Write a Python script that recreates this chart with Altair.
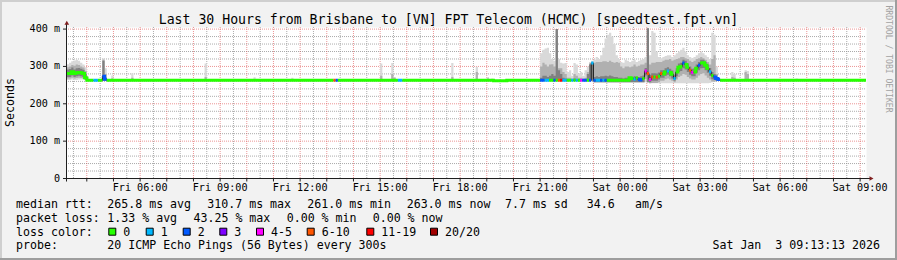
import altair as alt
import pandas as pd

# ------------------------------------------------------------------ values
baseline_rtt = 263.0          # flat median outside the windows listed below (ms)

# Early window: 5-minute steps starting Fri 03:10
early_start = "2026-01-02 03:10"
early_median = [281, 281, 281, 286, 281, 283, 284, 283, 281, 270,
                263, 263, 263, 263, 263, 263, 263, 274, 266, 263]
early_loss = ["0", "0", "0", "0", "0", "0", "0", "0", "0", "0",
              "0", "0", "0", "1", "1", "0", "0", "2", "2", "0"]
early_lo = [264, 264, 264, 265, 264, 264, 265, 265, 265, 263,
            262, 262, 262, 262, 262, 262, 262, 262, 262, 262]
early_hi = [306, 306, 310, 314, 316, 318, 315, 310, 305, 298,
            272, 264, 264, 264, 264, 264, 264, 321, 295, 264]
early_mid_lo = [268, 268, 268, 270, 268, 269, 270, 269, 268, 264,
                262, 262, 262, 262, 262, 262, 262, 262, 262, 262]
early_mid = [298, 298, 300, 304, 302, 305, 304, 300, 297, 288,
             266, 264, 264, 264, 264, 264, 264, 318, 280, 264]
early_dark_lo = [272, 272, 272, 276, 272, 274, 275, 274, 272, 265,
                 262, 262, 262, 262, 262, 262, 262, 262, 262, 262]
early_dark = [292, 292, 293, 297, 292, 295, 296, 294, 291, 280,
              264, 264, 264, 264, 264, 264, 264, 315, 270, 264]

# Late window: 5-minute steps starting Fri 20:50
late_start = "2026-01-02 20:50"
late_median = [263, 263, 263, 263, 263, 263, 263, 263, 263, 263,
               263, 263, 263, 263, 263, 263, 263, 263, 263, 263,
               263, 263, 263, 263, 263, 309, 263, 263, 263, 263,
               263, 263, 263, 263, 263, 263, 263, 263, 263, 263,
               263, 263, 270, 268, 266, 270, 265, 264, 268, 288,
               281, 265, 272, 272, 271, 274, 281, 280, 285, 288,
               284, 279, 268, 285, 298, 300, 309, 305, 298, 290,
               284, 285, 295, 303, 309, 310, 303, 295, 286, 276,
               272, 268, 265, 263, 263]
late_loss = ["0", "0", "2", "2", "1", "1", "0", "0", "2", "0",
             "6-10", "11-19", "1", "1", "0", "0", "1", "0", "1", "0",
             "4-5", "2", "2", "0", "2", "1", "2", "1", "1", "2",
             "1", "2", "0", "0", "0", "0", "0", "0", "0", "0",
             "0", "0", "0", "0", "1", "0", "2", "2", "0", "4-5",
             "6-10", "4-5", "6-10", "0", "6-10", "0", "6-10", "0", "0", "1",
             "0", "0", "1", "0", "0", "0", "2", "0", "0", "6-10",
             "4-5", "0", "0", "2", "0", "0", "0", "0", "1", "0",
             "2", "2", "2", "0", "0"]
late_lo = [262, 262, 262, 262, 262, 262, 262, 262, 262, 262,
           262, 262, 262, 262, 262, 262, 262, 262, 262, 262,
           262, 262, 262, 262, 262, 262, 258, 258, 258, 258,
           258, 258, 258, 258, 258, 258, 258, 258, 258, 258,
           258, 258, 258, 258, 258, 258, 258, 258, 258, 258,
           258, 255, 255, 255, 255, 255, 255, 255, 255, 255,
           255, 255, 255, 255, 255, 255, 255, 255, 255, 255,
           255, 255, 255, 255, 255, 255, 255, 255, 256, 258,
           260, 262, 262, 262, 262]
late_hi = [264, 264, 335, 345, 348, 350, 335, 320, 315, 400,
           320, 310, 308, 309, 285, 290, 275, 309, 305, 280,
           285, 275, 290, 300, 312, 315, 318, 325, 320, 330,
           350, 375, 385, 390, 380, 360, 330, 320, 312, 310,
           318, 315, 312, 315, 318, 312, 315, 318, 320, 325,
           402, 330, 395, 390, 340, 325, 322, 325, 328, 330,
           330, 325, 330, 335, 340, 345, 350, 340, 330, 325,
           322, 325, 330, 335, 340, 335, 330, 325, 320, 390,
           385, 300, 270, 264, 264]
late_mid_lo = [262, 262, 262, 262, 262, 262, 262, 262, 262, 262,
               262, 262, 262, 262, 262, 262, 262, 262, 262, 262,
               262, 262, 262, 262, 262, 262, 258, 258, 258, 258,
               258, 258, 258, 258, 258, 258, 258, 258, 258, 258,
               258, 258, 258, 258, 258, 258, 258, 258, 258, 266,
               258, 255, 256, 256, 256, 258, 262, 262, 266, 268,
               265, 262, 258, 265, 272, 275, 280, 278, 272, 268,
               265, 265, 270, 276, 280, 282, 276, 270, 265, 260,
               260, 262, 262, 262, 262]
late_mid = [264, 264, 300, 310, 305, 300, 305, 306, 300, 400,
            295, 295, 285, 280, 270, 270, 268, 280, 275, 270,
            270, 268, 270, 285, 308, 312, 310, 312, 312, 312,
            314, 314, 312, 315, 312, 310, 312, 310, 300, 295,
            300, 300, 298, 300, 305, 300, 302, 305, 305, 310,
            402, 305, 310, 310, 312, 312, 312, 315, 318, 318,
            320, 315, 318, 320, 322, 325, 325, 322, 320, 315,
            312, 315, 320, 322, 325, 322, 318, 312, 305, 320,
            330, 280, 265, 264, 264]
late_dark_lo = [262, 262, 262, 262, 262, 262, 262, 262, 262, 262,
                262, 262, 262, 262, 262, 262, 262, 262, 262, 262,
                262, 262, 262, 262, 262, 262, 258, 258, 258, 258,
                258, 258, 258, 258, 258, 258, 258, 258, 258, 258,
                258, 258, 258, 258, 258, 258, 258, 258, 258, 276,
                258, 258, 262, 262, 262, 265, 270, 270, 275, 278,
                274, 268, 262, 274, 285, 288, 295, 292, 285, 278,
                274, 274, 283, 290, 295, 296, 290, 283, 275, 266,
                264, 262, 262, 262, 262]
late_dark = [264, 264, 270, 275, 275, 272, 275, 280, 275, 400,
             290, 280, 270, 268, 265, 265, 265, 268, 266, 265,
             265, 265, 265, 280, 305, 310, 272, 274, 272, 274,
             274, 275, 274, 276, 274, 272, 272, 270, 270, 268,
             270, 270, 272, 272, 274, 272, 272, 274, 276, 296,
             402, 278, 282, 282, 281, 284, 290, 290, 295, 298,
             294, 289, 278, 295, 308, 310, 318, 315, 308, 300,
             294, 295, 305, 312, 318, 318, 312, 305, 296, 285,
             280, 272, 266, 264, 264]

# Isolated smoke spikes on the flat part (5-minute step start, top ms, darker top ms)
spike_times = ["2026-01-02 04:55", "2026-01-02 05:40", "2026-01-02 08:25", "2026-01-02 10:15",
               "2026-01-02 11:40", "2026-01-02 15:00", "2026-01-02 15:25", "2026-01-02 15:30",
               "2026-01-02 17:40", "2026-01-02 18:35", "2026-01-02 19:00", "2026-01-02 19:10",
               "2026-01-02 19:45", "2026-01-03 04:10", "2026-01-03 04:15", "2026-01-03 04:40",
               "2026-01-03 04:45", "2026-01-03 06:35"]
spike_top = [276, 282, 308, 271, 270, 308, 309, 272, 309, 299, 272, 268, 266, 285, 280, 290, 288, 268]
spike_mid = [268, 270, 272, 266, 265, 275, 280, 270, 272, 285, 268, 265, 264, 272, 270, 285, 280, 265]

# Single loss events on the flat part
flat_loss_times = ["2026-01-02 13:15", "2026-01-02 13:20", "2026-01-02 15:40", "2026-01-02 15:45"]
flat_loss_class = ["6-10", "2", "1", "1"]

# Short dip of the median
dip_times = ["2026-01-02 19:15", "2026-01-02 19:20", "2026-01-02 19:25",
             "2026-01-02 19:30", "2026-01-02 19:35", "2026-01-02 19:40"]
dip_median = [261.5, 261.5, 261.5, 261.5, 261.5, 261.5]

loss_labels = ["0", "1", "2", "3", "4-5", "6-10", "11-19", "20/20"]
loss_colors = ["#26ff00", "#00b8ff", "#0059ff", "#7e00ff", "#ff00ff", "#ff5500", "#ff0000", "#a10000"]

x_tick_times = ["2026-01-02 06:00", "2026-01-02 09:00", "2026-01-02 12:00", "2026-01-02 15:00",
                "2026-01-02 18:00", "2026-01-02 21:00", "2026-01-03 00:00", "2026-01-03 03:00",
                "2026-01-03 06:00", "2026-01-03 09:00"]
x_tick_labels = ["Fri 06:00", "Fri 09:00", "Fri 12:00", "Fri 15:00", "Fri 18:00", "Fri 21:00",
                 "Sat 00:00", "Sat 03:00", "Sat 06:00", "Sat 09:00"]
y_tick_values = [0, 100, 200, 300, 400]
y_tick_labels = ["0", "100 m", "200 m", "300 m", "400 m"]

title_text = "Last 30 Hours from Brisbane to [VN] FPT Telecom (HCMC) [speedtest.fpt.vn]"
rtt_items = ["265.8 ms avg", "310.7 ms max", "261.0 ms min", "263.0 ms now", "7.7 ms sd", "34.6", "am/s"]
loss_items = ["1.33 % avg", "43.25 % max", "0.00 % min", "0.00 % now"]
probe_text = "20 ICMP Echo Pings (56 Bytes) every 300s"
stamp_text = "Sat Jan\u00a0\u00a03 09:13:13 2026"

# ------------------------------------------------------------------ layout (pixels, not data)
OX, OY = 66, 27            # plot origin in the page
W, H = 800, 151.5
MONO = "DejaVu Sans Mono"
rtt_x = [107.3, 207.3, 307.3, 406.7, 505, 586.7, 635]
loss_x = [107.3, 193.5, 286.7, 372.7]
box_x = [108.3, 145.7, 182.7, 219.3, 256, 306.7, 366.3, 430]
row_y = [208.3, 222.0, 235.7, 249.4]

# ------------------------------------------------------------------ tables
base = pd.DataFrame(index=pd.date_range("2026-01-02 03:10", "2026-01-03 09:10", freq="5min"))
base["median"] = baseline_rtt
base["loss"] = "0"
for c in ["lo", "hi", "mid_lo", "mid", "dark_lo", "dark"]:
    base[c] = baseline_rtt


def place(start, **cols):
    n = len(next(iter(cols.values())))
    idx = pd.date_range(start, periods=n, freq="5min")
    for c, vals in cols.items():
        base.loc[idx, c] = list(vals)


place(early_start, median=early_median, loss=early_loss, lo=early_lo, hi=early_hi,
      mid_lo=early_mid_lo, mid=early_mid, dark_lo=early_dark_lo, dark=early_dark)
place(late_start, median=late_median, loss=late_loss, lo=late_lo, hi=late_hi,
      mid_lo=late_mid_lo, mid=late_mid, dark_lo=late_dark_lo, dark=late_dark)
for t, top, mid in zip(spike_times, spike_top, spike_mid):
    ts = pd.Timestamp(t)
    base.loc[ts, ["lo", "mid_lo", "dark_lo"]] = baseline_rtt - 1
    base.loc[ts, "hi"] = top
    base.loc[ts, "mid"] = mid
for t, c in zip(flat_loss_times, flat_loss_class):
    base.loc[pd.Timestamp(t), "loss"] = c
for t, m in zip(dip_times, dip_median):
    base.loc[pd.Timestamp(t), "median"] = m

steps = base.reset_index().rename(columns={"index": "t"})
steps["t2"] = steps["t"] + pd.Timedelta(minutes=5)
closing = steps.iloc[[-1]].copy()
closing["t"] = closing["t2"]
curve = pd.concat([steps, closing], ignore_index=True)[
    ["t", "median", "lo", "hi", "mid_lo", "mid", "dark_lo", "dark"]]

run_id = (steps["loss"] != steps["loss"].shift()).cumsum()
parts = []
for rid, g in steps.groupby(run_id):
    pts = g[["t", "median", "loss"]]
    end = g.iloc[[-1]][["t2", "median", "loss"]].rename(columns={"t2": "t"})
    p = pd.concat([pts, end], ignore_index=True)
    p["run"] = int(rid)
    parts.append(p)
segs = pd.concat(parts, ignore_index=True)

vminor = pd.DataFrame({"t": pd.date_range("2026-01-02 03:30", "2026-01-03 08:30", freq="h")})
vmajor = pd.DataFrame({"t": pd.date_range("2026-01-02 04:00", "2026-01-03 09:00", freq="h")})
hminor = pd.DataFrame({"v": [v for v in range(20, 400, 20) if v % 100]})
hmajor = pd.DataFrame({"v": y_tick_values[1:]})
xlab = pd.DataFrame({"t": pd.to_datetime(x_tick_times), "lab": x_tick_labels})
ylab = pd.DataFrame({"v": y_tick_values, "lab": y_tick_labels})
one = pd.DataFrame({"k": [0]})

xs = alt.Scale(domain=[alt.DateTime(year=2026, month=1, date=2, hours=3, minutes=13, seconds=13),
                       alt.DateTime(year=2026, month=1, date=3, hours=9, minutes=13, seconds=13)],
               nice=False)
ys = alt.Scale(domain=[0, 405.6], nice=False, zero=False)
X = alt.X("t:T", scale=xs, axis=None)


def Y(f):
    return alt.Y(f"{f}:Q", scale=ys, axis=None)


layers = []

# grid
layers.append(alt.Chart(vminor).mark_rule(color="#8f8f8f", strokeOpacity=0.75, strokeDash=[1, 1], strokeWidth=1)
              .encode(x=X, y=alt.value(0), y2=alt.value(H)))
layers.append(alt.Chart(hminor).mark_rule(color="#8f8f8f", strokeOpacity=0.75, strokeDash=[1, 1], strokeWidth=1)
              .encode(y=Y("v"), x=alt.value(0), x2=alt.value(W)))
layers.append(alt.Chart(vmajor).mark_rule(color="#de4f4f", strokeOpacity=0.6, strokeDash=[1, 1], strokeWidth=1)
              .encode(x=X, y=alt.value(0), y2=alt.value(H)))
layers.append(alt.Chart(hmajor).mark_rule(color="#de4f4f", strokeOpacity=0.6, strokeDash=[1, 1], strokeWidth=1)
              .encode(y=Y("v"), x=alt.value(0), x2=alt.value(W)))

# smoke: outer, middle and core bands of the ping distribution
for lo, top, col in [("lo", "hi", "#d9d9d9"), ("mid_lo", "mid", "#b0b0b0"), ("dark_lo", "dark", "#808080")]:
    layers.append(alt.Chart(curve).mark_area(interpolate="step-after", color=col, clip=True)
                  .encode(x=X, y=Y(lo), y2=alt.Y2(top)))

# median: thin dark line + loss-coloured thick line
layers.append(alt.Chart(curve).mark_line(interpolate="step-after", color="#202020", strokeWidth=1, clip=True)
              .encode(x=X, y=Y("median")))
layers.append(alt.Chart(segs).mark_line(interpolate="step-after", strokeWidth=3, strokeCap="butt",
                                        strokeJoin="miter", clip=True)
              .encode(x=X, y=Y("median"),
                      color=alt.Color("loss:N", scale=alt.Scale(domain=loss_labels, range=loss_colors), legend=None),
                      detail="run:N"))

# axes
AX = "#1f1f1f"
layers.append(alt.Chart(one).mark_rule(color=AX, strokeWidth=1)
              .encode(x=alt.value(-3), x2=alt.value(W + 4), y=alt.value(H)))
layers.append(alt.Chart(one).mark_rule(color=AX, strokeWidth=1)
              .encode(x=alt.value(0.5), y=alt.value(H + 3), y2=alt.value(-3)))
layers.append(alt.Chart(vmajor).mark_rule(color=AX, strokeWidth=1)
              .encode(x=X, y=alt.value(H), y2=alt.value(H + 3)))
layers.append(alt.Chart(ylab).mark_rule(color=AX, strokeWidth=1)
              .encode(y=Y("v"), x=alt.value(-3), x2=alt.value(0)))
layers.append(alt.Chart(one).mark_point(shape="triangle-up", filled=True, size=22, color="#801f1f", opacity=1)
              .encode(x=alt.value(0.8), y=alt.value(-4.3)))
layers.append(alt.Chart(one).mark_point(shape="triangle-right", filled=True, size=22, color="#801f1f", opacity=1)
              .encode(x=alt.value(W + 5.5), y=alt.value(H)))

# tick labels
layers.append(alt.Chart(xlab).mark_text(font=MONO, fontSize=10.1, align="center", baseline="alphabetic", color="black")
              .encode(x=X, y=alt.value(191 - OY), text="lab:N"))
layers.append(alt.Chart(ylab).mark_text(font=MONO, fontSize=10.1, align="right", baseline="middle", color="black")
              .encode(y=Y("v"), x=alt.value(60 - OX), text="lab:N"))


def txt(s, x, y, size=11.6, align="left", angle=0, color="black", baseline="alphabetic"):
    return (alt.Chart(one)
            .mark_text(text=s, font=MONO, fontSize=size, align=align, angle=angle, color=color, baseline=baseline)
            .encode(x=alt.value(x - OX), y=alt.value(y - OY)))


layers.append(txt(title_text, 448.5, 24, size=13.2, align="center"))
layers.append(txt("Seconds", 10.7, 102.5, angle=270, align="center", baseline="middle"))
layers.append(txt("RRDTOOL / TOBI OETIKER", 888.3, 59, size=8.1, angle=90, align="center",
                  baseline="middle", color="#a2a2a2"))

layers.append(txt("median rtt:", 16, row_y[0]))
for s, x in zip(rtt_items, rtt_x):
    layers.append(txt(s, x, row_y[0]))
layers.append(txt("packet loss:", 16, row_y[1]))
for s, x in zip(loss_items, loss_x):
    layers.append(txt(s, x, row_y[1]))
layers.append(txt("loss color:", 16, row_y[2]))
for lab, col, bx in zip(loss_labels, loss_colors, box_x):
    layers.append(alt.Chart(one).mark_rect(color=col, stroke="black", strokeWidth=1)
                  .encode(x=alt.value(bx - OX + 0.5), x2=alt.value(bx - OX + 7.5),
                          y=alt.value(row_y[2] - 8 - OY + 0.5), y2=alt.value(row_y[2] - OY - 0.5)))
    layers.append(txt(lab, bx + 15, row_y[2]))
layers.append(txt("probe:", 16, row_y[3]))
layers.append(txt(probe_text, 107.3, row_y[3]))
layers.append(txt(stamp_text, 880, row_y[3], align="right"))

# 3-D frame
for (x1, x2, y1, y2, col) in [(0, 897, 0, 2, "#cfcfcf"), (0, 2, 0, 260, "#cfcfcf"),
                              (0, 897, 258, 260, "#9e9e9e"), (895, 897, 0, 260, "#9e9e9e")]:
    layers.append(alt.Chart(one).mark_rect(color=col)
                  .encode(x=alt.value(x1 - OX), x2=alt.value(x2 - OX), y=alt.value(y1 - OY), y2=alt.value(y2 - OY)))

chart = (alt.layer(*layers)
         .properties(width=W, height=H, background="#f2f2f2",
                     padding={"left": OX, "top": OY, "right": 897 - OX - W, "bottom": 260 - OY - H},
                     autosize=alt.AutoSizeParams(type="none"))
         .configure_view(fill="white", strokeOpacity=0))

chart.save("out.html", embed_options={"renderer": "svg", "actions": False})
